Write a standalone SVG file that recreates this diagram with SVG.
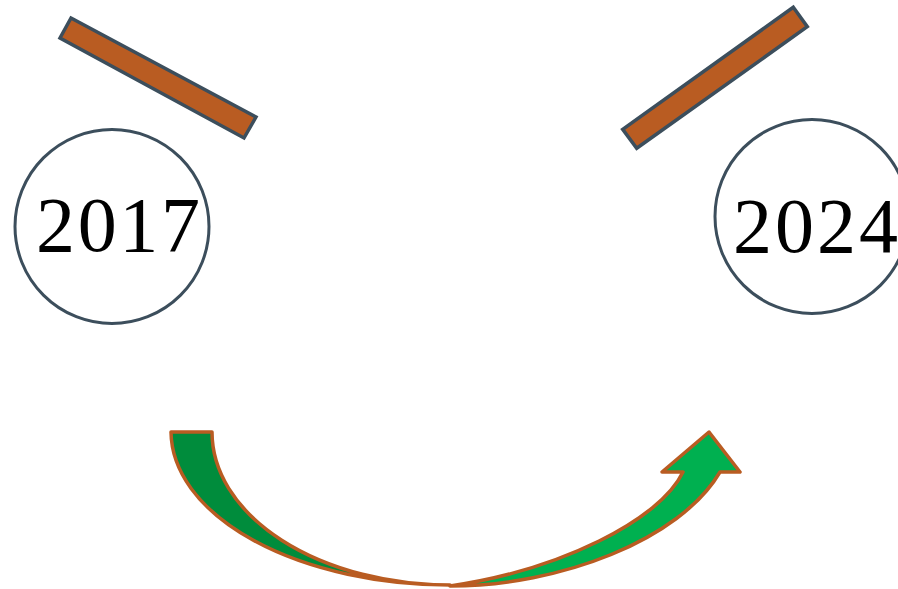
<svg xmlns="http://www.w3.org/2000/svg" width="898" height="589" viewBox="0 0 898 589">
  <style>
    .bar { fill: #b95c22; stroke: #3c4e5c; stroke-width: 3.5; stroke-linejoin: miter; }
    .ring { fill: #ffffff; stroke: #3c4e5c; stroke-width: 3; }
    .year { font-family: "Liberation Serif", "DejaVu Serif", serif; font-size: 78px; fill: #000000; }
    .arr { stroke: #b95c22; stroke-width: 3.5; stroke-linejoin: round; }
  </style>
  <rect width="898" height="589" fill="#ffffff"/>
  <g id="bar-left">
    <polygon class="bar" points="71,18 256,117 244,138 60,38"/>
  </g>
  <g id="bar-right">
    <polygon class="bar" points="793.3,7.3 807.3,26.7 636.7,148.3 622.7,129.3"/>
  </g>
  <g id="node-2017">
    <circle class="ring" cx="112" cy="226.5" r="97"/>
    <text class="year" x="36" y="251" textLength="164" lengthAdjust="spacing">2017</text>
  </g>
  <g id="node-2024">
    <circle class="ring" cx="812" cy="216.5" r="97"/>
    <text class="year" x="733" y="252" textLength="165" lengthAdjust="spacing">2024</text>
  </g>
  <g id="connectors">
    <path class="arr" fill="#008c3c" d="M171,432 L212,432 A238,153 0 0 0 450,585 A279,154 0 0 1 171,432 Z"/>
    <path class="arr" fill="#00b050" d="M683,472 L662,472 L709,432 L740,472 L720,472 C680,540 560,586 450,586 C560,570 660,520 683,472 Z"/>
  </g>
</svg>
